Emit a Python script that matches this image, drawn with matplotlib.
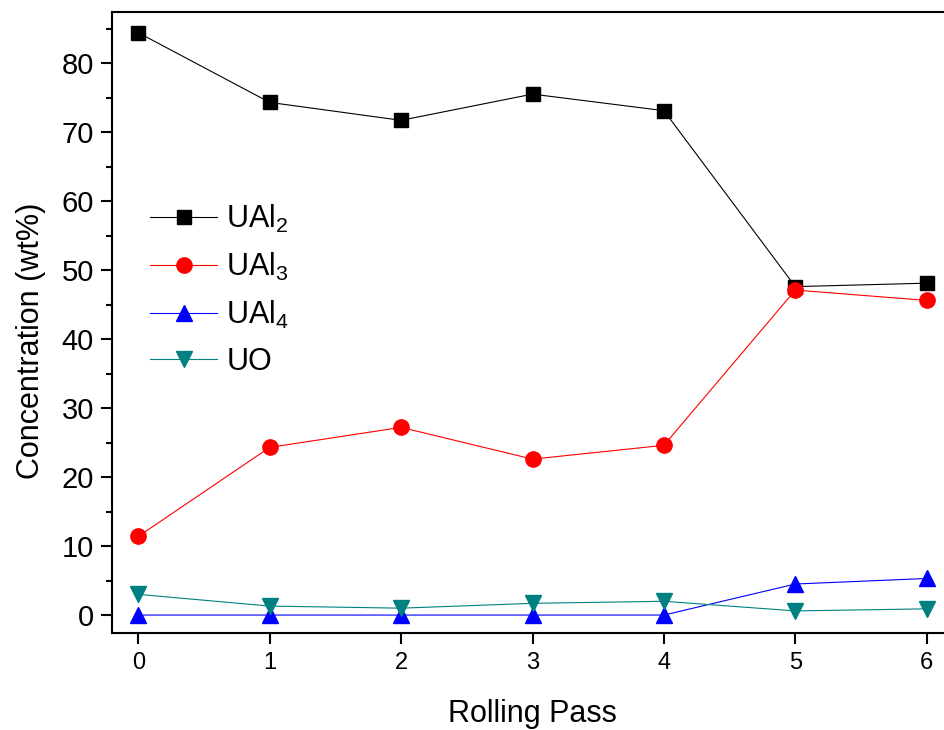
import matplotlib
matplotlib.use("Agg")
import matplotlib.pyplot as plt
from matplotlib.ticker import MultipleLocator

plt.rcParams['font.family'] = ['Liberation Sans', 'DejaVu Sans']
plt.rcParams['mathtext.default'] = 'regular'

# rolling pass number
passes = [0, 1, 2, 3, 4, 5, 6]

# phase concentrations (wt%)
ual2 = [84.4, 74.3, 71.7, 75.5, 73.1, 47.6, 48.1]
ual3 = [11.4, 24.3, 27.2, 22.6, 24.6, 47.1, 45.6]
ual4 = [0.0, 0.0, 0.0, 0.0, 0.0, 4.5, 5.3]
uo = [3.0, 1.3, 1.0, 1.7, 2.0, 0.6, 0.9]

fig = plt.figure(figsize=(9.44, 7.30), dpi=100)
ax = fig.add_axes([112 / 944, 1 - 633 / 730, (953 - 112) / 944, (633 - 12) / 730])

ax.plot(passes, ual2, color='black', lw=0.8, marker='s', ms=10, label='UAl$_2$')
ax.plot(passes, ual3, color='red', lw=0.8, marker='o', ms=11, label='UAl$_3$')
ax.plot(passes, ual4, color='blue', lw=0.8, marker='^', ms=11, label='UAl$_4$')
ax.plot(passes, uo, color='#008080', lw=0.8, marker='v', ms=11, label='UO')

ax.set_xlim(-0.2, 6.2)
ax.set_ylim(-2.6, 87.4)
ax.xaxis.set_major_locator(MultipleLocator(1))
ax.yaxis.set_minor_locator(MultipleLocator(5))
ax.set_yticks(range(0, 81, 10))

for s in ax.spines.values():
    s.set_linewidth(1.5)

ax.tick_params(axis='both', which='major', direction='out', length=8, width=1.5)
ax.tick_params(axis='y', which='minor', direction='out', length=4.5, width=1.5)
ax.tick_params(axis='x', labelsize=17, pad=6)
ax.tick_params(axis='y', labelsize=21, pad=5)

ax.set_xlabel('Rolling Pass', fontsize=22)
ax.set_ylabel('Concentration (wt%)', fontsize=22)
ax.xaxis.set_label_coords(0.5, -0.106)
ax.yaxis.set_label_coords(-0.079, 0.47)

ax.legend(loc='upper left', bbox_to_anchor=(150 / 944, 1 - 203 / 730),
          bbox_transform=fig.transFigure, frameon=False, fontsize=22,
          handlelength=2.2, handletextpad=0.3, labelspacing=0.52,
          borderpad=0, borderaxespad=0)

fig.savefig('out.png', dpi=100)
